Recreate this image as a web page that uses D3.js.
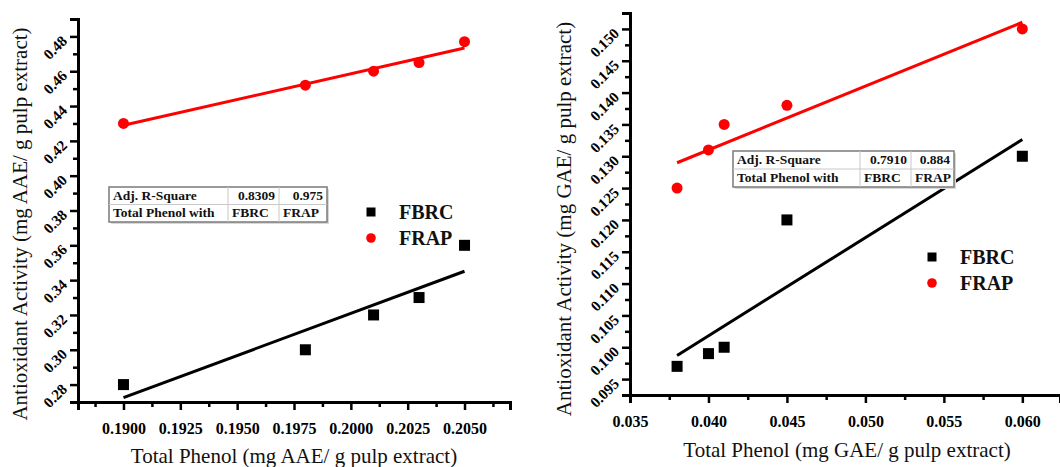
<!DOCTYPE html>
<html><head><meta charset="utf-8">
<script src="https://cdn.jsdelivr.net/npm/d3@7"></script>
<style>body{margin:0;background:#fff}svg{display:block}text{font-family:"Liberation Serif","Times New Roman",serif}</style>
</head><body>
<script>
// ---- data ----
const leftPhenol = [0.1900, 0.1980, 0.2010, 0.2030, 0.2050];
const leftFBRC   = [0.280, 0.300, 0.320, 0.330, 0.360];
const leftFRAP   = [0.430, 0.452, 0.460, 0.465, 0.477];
const rightPhenol = [0.038, 0.040, 0.041, 0.045, 0.060];
const rightFBRC   = [0.097, 0.099, 0.100, 0.120, 0.130];
const rightFRAP   = [0.125, 0.131, 0.135, 0.138, 0.150];
const leftXTicks  = [0.1900, 0.1925, 0.1950, 0.1975, 0.2000, 0.2025, 0.2050];
const leftYTicks  = [0.28, 0.30, 0.32, 0.34, 0.36, 0.38, 0.40, 0.42, 0.44, 0.46, 0.48];
const rightXTicks = [0.035, 0.040, 0.045, 0.050, 0.055, 0.060];
const rightYTicks = [0.095, 0.100, 0.105, 0.110, 0.115, 0.120, 0.125, 0.130, 0.135, 0.140, 0.145, 0.150];
const seriesNames = ["FBRC", "FRAP"];
const leftTable  = [["Adj. R-Square", "0.8309", "0.975"], ["Total Phenol with", "FBRC", "FRAP"]];
const rightTable = [["Adj. R-Square", "0.7910", "0.884"], ["Total Phenol with", "FBRC", "FRAP"]];
const leftXLabel = "Total Phenol (mg AAE/ g pulp extract)";
const leftYLabel = "Antioxidant Activity (mg AAE/ g pulp extract)";
const rightXLabel = "Total Phenol (mg GAE/ g pulp extract)";
const rightYLabel = "Antioxidant Activity (mg GAE/ g pulp extract)";

const W = 1060, H = 467;
const svg = d3.select("body").append("svg").attr("width", W).attr("height", H);

function fit(xs, ys) {
  const mx = d3.mean(xs), my = d3.mean(ys);
  let sxy = 0, sxx = 0;
  xs.forEach((x, i) => { sxy += (x - mx) * (ys[i] - my); sxx += (x - mx) * (x - mx); });
  const b = sxy / sxx, a = my - b * mx;
  return x => a + b * x;
}

function panel(cfg) {
  const g = svg.append("g");
  const x = d3.scaleLinear().domain(cfg.xDomain).range([cfg.x0, cfg.x1]);
  const y = d3.scaleLinear().domain(cfg.yDomain).range([cfg.y0, cfg.y1]);

  const xStep = cfg.xTicks[1] - cfg.xTicks[0];
  const yStep = cfg.yTicks[1] - cfg.yTicks[0];
  const xMinor = d3.range(-1, cfg.xTicks.length + 1).map(i => cfg.xTicks[0] + (i + 0.5) * xStep)
    .filter(v => v > cfg.xDomain[0] + 1e-9 && v < cfg.xDomain[1] - 1e-9);
  const yMinor = d3.range(-1, cfg.yTicks.length + 1).map(i => cfg.yTicks[0] + (i + 0.5) * yStep)
    .filter(v => v > cfg.yDomain[0] + 1e-9 && v < cfg.yDomain[1] - 1e-9);

  const xAxisMinor = g.append("g").attr("transform", `translate(0,${cfg.y0})`)
    .call(d3.axisBottom(x).tickValues(xMinor).tickSize(5).tickFormat(""));
  const xAxis = g.append("g").attr("transform", `translate(0,${cfg.y0})`)
    .call(d3.axisBottom(x).tickValues(cfg.xTicks).tickSize(8).tickPadding(13).tickFormat(cfg.xFmt));
  const yAxisMinor = g.append("g").attr("transform", `translate(${cfg.x0},0)`)
    .call(d3.axisLeft(y).tickValues(yMinor).tickSize(5).tickFormat(""));
  const yAxis = g.append("g").attr("transform", `translate(${cfg.x0},0)`)
    .call(d3.axisLeft(y).tickValues(cfg.yTicks).tickSize(8).tickFormat(cfg.yFmt));

  [xAxisMinor, xAxis, yAxisMinor, yAxis].forEach(a => {
    a.select(".domain").attr("stroke", "#000").attr("stroke-width", 3);
    a.selectAll(".tick line").attr("stroke", "#000").attr("stroke-width", 2.5);
  });
  xAxis.selectAll(".tick text").attr("font-size", 16).attr("font-weight", "bold")
    .attr("font-family", "Liberation Serif").attr("fill", "#000").attr("dy", "0.71em");
  yAxis.selectAll(".tick text").attr("font-size", 15).attr("font-weight", "bold")
    .attr("font-family", "Liberation Serif").attr("fill", "#000")
    .attr("text-anchor", "end").attr("x", null).attr("dy", null)
    .attr("transform", "translate(-10,5) rotate(-45)");

  const series = [
    { name: seriesNames[0], ys: cfg.fbrc, color: "#000", shape: "square" },
    { name: seriesNames[1], ys: cfg.frap, color: "#ff0000", shape: "circle" }
  ];
  series.forEach(s => {
    const f = fit(cfg.xs, s.ys);
    const ext = d3.extent(cfg.xs);
    g.append("line").attr("x1", x(ext[0])).attr("y1", y(f(ext[0])))
      .attr("x2", x(ext[1])).attr("y2", y(f(ext[1])))
      .attr("stroke", s.color).attr("stroke-width", 3);
  });
  series.forEach(s => {
    const pts = cfg.xs.map((v, i) => [v, s.ys[i]]);
    if (s.shape === "square") {
      g.selectAll(null).data(pts).enter().append("rect")
        .attr("x", d => x(d[0]) - 5.5).attr("y", d => y(d[1]) - 5.5)
        .attr("width", 11).attr("height", 11).attr("fill", s.color);
    } else {
      g.selectAll(null).data(pts).enter().append("circle")
        .attr("cx", d => x(d[0])).attr("cy", d => y(d[1])).attr("r", 5.5).attr("fill", s.color);
    }
  });

  series.forEach((s, i) => {
    const ly = cfg.legY + i * 26;
    if (s.shape === "square") {
      g.append("rect").attr("x", cfg.legX - 4.5).attr("y", ly - 4.5).attr("width", 9).attr("height", 9).attr("fill", s.color);
    } else {
      g.append("circle").attr("cx", cfg.legX).attr("cy", ly).attr("r", 4.8).attr("fill", s.color);
    }
    g.append("text").attr("x", cfg.legX + 28).attr("y", ly + 7).attr("font-size", 20)
      .attr("font-weight", "bold").attr("fill", "#111").text(s.name);
  });

  const t = cfg.table;
  const cols = t.cols;
  const tw = d3.sum(cols), rh = t.rowH;
  const tg = g.append("g").attr("transform", `translate(${t.x},${t.y})`);
  tg.append("rect").attr("x", 2).attr("y", 2).attr("width", tw).attr("height", rh * 2).attr("fill", "#d8d8d8");
  tg.append("rect").attr("width", tw).attr("height", rh * 2).attr("fill", "#fff")
    .attr("stroke", "#7a7a7a").attr("stroke-width", 1.5);
  tg.append("line").attr("x1", 0).attr("x2", tw).attr("y1", rh).attr("y2", rh).attr("stroke", "#c8c8c8").attr("stroke-width", 1);
  let cx = 0;
  cols.slice(0, -1).forEach(c => {
    cx += c;
    tg.append("line").attr("x1", cx).attr("x2", cx).attr("y1", 0).attr("y2", rh * 2).attr("stroke", "#c8c8c8").attr("stroke-width", 1);
  });
  cfg.tableData.forEach((row, r) => {
    let left = 0;
    row.forEach((cell, c) => {
      const isNum = r === 0 && c > 0;
      tg.append("text").attr("x", isNum ? left + cols[c] - 4 : left + 4)
        .attr("y", r * rh + rh - 5).attr("text-anchor", isNum ? "end" : "start")
        .attr("font-size", 13.5).attr("font-weight", "bold").attr("fill", "#111").text(cell);
      left += cols[c];
    });
  });

  g.append("text").attr("x", cfg.xLabX).attr("y", cfg.xLabY).attr("text-anchor", "middle")
    .attr("font-size", 21).attr("fill", "#111").text(cfg.xLabel);
  g.append("text").attr("transform", `translate(${cfg.yLabX},${cfg.yLabY}) rotate(-90)`)
    .attr("text-anchor", "middle").attr("font-size", 21).attr("fill", "#111").text(cfg.yLabel);
}

panel({
  x0: 78, x1: 510, y0: 402, y1: 19,
  xDomain: [0.188, 0.207], yDomain: [0.27, 0.49],
  xTicks: leftXTicks, yTicks: leftYTicks,
  xFmt: d3.format(".4f"), yFmt: d3.format(".2f"),
  xs: leftPhenol, fbrc: leftFBRC, frap: leftFRAP,
  legX: 371, legY: 212,
  table: { x: 109, y: 187, cols: [119, 51, 48], rowH: 17.5 },
  tableData: leftTable,
  xLabel: leftXLabel, xLabX: 294, xLabY: 463,
  yLabel: leftYLabel, yLabX: 27, yLabY: 224
});

panel({
  x0: 630, x1: 1060, y0: 395, y1: 13,
  xDomain: [0.035, 0.0624], yDomain: [0.0925, 0.1525],
  xTicks: rightXTicks, yTicks: rightYTicks,
  xFmt: d3.format(".3f"), yFmt: d3.format(".3f"),
  xs: rightPhenol, fbrc: rightFBRC, frap: rightFRAP,
  legX: 932, legY: 257,
  table: { x: 733, y: 151, cols: [127, 51, 43], rowH: 18 },
  tableData: rightTable,
  xLabel: rightXLabel, xLabX: 847, xLabY: 457,
  yLabel: rightYLabel, yLabX: 571, yLabY: 219
});
</script>
</body></html>
